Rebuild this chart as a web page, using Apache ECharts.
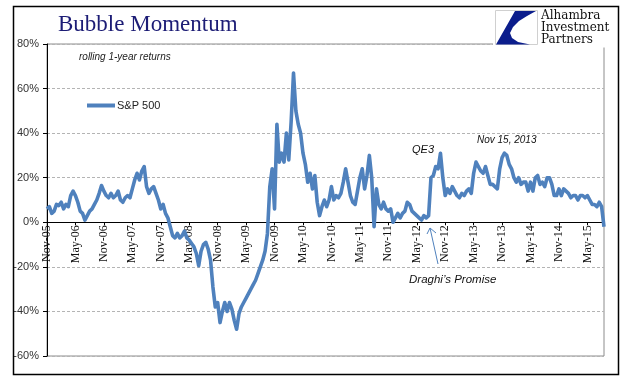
<!DOCTYPE html>
<html>
<head>
<meta charset="utf-8">
<script src="https://cdn.jsdelivr.net/npm/echarts@6/dist/echarts.min.js"></script>
<style>
html,body{margin:0;padding:0;background:#fff;}
#chart{width:641px;height:381px;}
</style>
</head>
<body>
<div id="chart"></div>
<script>
// Six-month tick labels (Nov-05 ... May-15); data points are half-month steps
const tickLabels = ['Nov-05','May-06','Nov-06','May-07','Nov-07','May-08','Nov-08','May-09','Nov-09','May-10',
  'Nov-10','May-11','Nov-11','May-12','Nov-12','May-13','Nov-13','May-14','Nov-14','May-15'];
const pointsPerTick = 12; // 12 half-month points per 6-month label

// S&P 500 rolling 1-year returns (%), half-month steps from Nov 2005
const sp500 = [
  6, 7, 4, 5, 8, 7.5, 9, 6, 8, 7,
  12, 14, 12, 9, 5, 4, 1, 3, 5, 6,
  8, 10, 13, 16.5, 14, 12, 11, 13, 11, 12,
  14, 10, 9, 11, 12, 11, 15, 19, 22, 19,
  23, 25, 16, 13, 15, 16, 13, 10, 6, 8,
  4, 2, -2, -6, -7, -5, -7, -6, -4, -7,
  -8, -9.5, -11, -14, -19.5, -13, -10, -9, -12, -17,
  -29, -38, -36, -45, -40, -36, -40, -36, -39, -44,
  -48, -41, -38, -36, -34, -32, -30, -28, -26, -23,
  -20, -17, -13, -5, 16, 24, 6, 44, 27, 31,
  27, 40, 28, 45, 67, 50, 44, 40, 31, 26,
  18, 22, 15, 21, 9, 3, 7, 10, 7, 10,
  16, 10, 12, 11, 13, 18, 24, 18, 12, 9,
  8, 14, 20, 24, 15, 21, 30, 20, -2, 15,
  8, 6, 9, 6, 5, 6, 0, 2, 4, 2,
  4, 5, 9, 8, 5, 4, 3, 2, 1, 3,
  2, 3, 20, 21, 25, 24, 31, 20, 12, 15,
  13, 16, 14, 12, 11, 13, 12, 14, 15, 13,
  22, 27, 25, 23, 22, 25, 21, 17, 17, 16,
  15, 24, 29, 31, 30, 26, 24, 20, 18, 20,
  17, 18, 18, 14, 18, 14, 20, 21, 17, 18,
  16, 20, 20, 17, 12, 12, 15, 12, 15, 14,
  13, 11, 12, 12, 10, 12, 12, 11, 12, 10,
  8, 8, 7, 9, 7, -2
];
const categories = sp500.map((v, i) => 'p' + i);

const yMin = -60, yMax = 80;
const gridTop = 44, gridBottom = 25, chartH = 381;
const plotH = chartH - gridTop - gridBottom;
// shift the category axis up from the grid bottom to the 0% level
const zeroOffset = -plotH * (0 - yMin) / (yMax - yMin);

const chart = echarts.init(document.getElementById('chart'), null, {renderer: 'canvas'});
const lineColor = '#4F81BD';
const option = {
  animation: false,
  backgroundColor: '#fff',
  grid: {left: 47, top: gridTop, right: 37, bottom: gridBottom, containLabel: false, outerBoundsMode: 'none',
    show: true, borderColor: '#8c8c8c', borderWidth: 1, backgroundColor: 'transparent'},
  legend: {
    left: 82, top: 95, itemWidth: 28, itemHeight: 4, icon: 'rect',
    data: [{name: 'S&P 500', icon: 'rect'}],
    textStyle: {fontFamily: 'Liberation Sans', fontSize: 11, color: '#222', padding: [0, 0, 0, -3]}
  },
  xAxis: {
    type: 'category', data: categories, boundaryGap: false,
    offset: zeroOffset,
    axisLine: {onZero: false, lineStyle: {color: '#000', width: 1}},
    axisTick: {show: true, length: 3, interval: (i) => i % pointsPerTick === 0, lineStyle: {color: '#000'}},
    axisLabel: {
      interval: (i) => i % pointsPerTick === 0, rotate: 90, margin: 3,
      fontFamily: 'Liberation Serif', fontSize: 12, color: '#111',
      formatter: (v, i) => (i % pointsPerTick === 0 ? tickLabels[i / pointsPerTick] : '')
    },
    splitLine: {show: false}
  },
  yAxis: {
    type: 'value', min: yMin, max: yMax, interval: 20,
    axisLine: {show: true, onZero: false, lineStyle: {color: '#000', width: 1}},
    axisTick: {show: true, length: 4, lineStyle: {color: '#000'}},
    axisLabel: {formatter: '{value}%', margin: 8, fontFamily: 'Liberation Sans', fontSize: 11, color: '#333'},
    splitLine: {show: true, lineStyle: {color: '#b4b4b4', type: [3, 2], width: 1}}
  },
  series: [{
    name: 'S&P 500', type: 'line', data: sp500, showSymbol: false, symbol: 'none',
    lineStyle: {color: lineColor, width: 3.6, join: 'round'},
    itemStyle: {color: lineColor}, z: 3
  }],
  graphic: [
    {type: 'rect', z: 100, shape: {x: 493, y: 7.5, width: 124, height: 40}, style: {fill: '#fff', stroke: null}},
    {type: 'rect', z: 101, shape: {x: 495.5, y: 10.5, width: 42, height: 34}, style: {fill: '#fff', stroke: '#d0d0d0', lineWidth: 1}},
    {type: 'polygon', z: 102, shape: {points: [[515,11],[536,11],[527,16],[519,21],[513,27],[510,33],[512,38],[518,42],[530,44.5],[496,44.5]]},
      style: {fill: '#0b1d8c'}},
    {type: 'text', z: 102, style: {x: 541, y: 16, text: 'Alhambra', font: '12px "DejaVu Serif"', fill: '#111', verticalAlign: 'middle'}},
    {type: 'text', z: 102, style: {x: 541, y: 28, text: 'Investment', font: '12px "DejaVu Serif"', fill: '#111', verticalAlign: 'middle'}},
    {type: 'text', z: 102, style: {x: 541, y: 40, text: 'Partners', font: '12px "DejaVu Serif"', fill: '#111', verticalAlign: 'middle'}},
    {type: 'rect', z: 103, shape: {x: 13.5, y: 6.5, width: 605, height: 368}, style: {fill: 'none', stroke: '#000', lineWidth: 1.5}},
    {type: 'text', z: 102, style: {x: 58, y: 24.5, text: 'Bubble Momentum', font: '23px "Liberation Serif"', fill: '#1c1c75', verticalAlign: 'middle'}},
    {type: 'text', z: 102, style: {x: 79, y: 57, text: 'rolling 1-year returns', font: 'italic 10px "Liberation Sans"', fill: '#222', verticalAlign: 'middle'}},
    {type: 'text', z: 102, style: {x: 412, y: 150, text: 'QE3', font: 'italic 11px "Liberation Sans"', fill: '#111', verticalAlign: 'middle'}},
    {type: 'text', z: 102, style: {x: 477, y: 140, text: 'Nov 15, 2013', font: 'italic 10px "Liberation Sans"', fill: '#111', verticalAlign: 'middle'}},
    {type: 'text', z: 102, style: {x: 409, y: 280, text: 'Draghi\u2019s Promise', font: 'italic 11.5px "Liberation Sans"', fill: '#111', verticalAlign: 'middle'}},
    {type: 'line', z: 102, shape: {x1: 438, y1: 264, x2: 430, y2: 228}, style: {stroke: lineColor, lineWidth: 1}},
    {type: 'polyline', z: 102, shape: {points: [[427, 234], [430, 228], [436, 233]]}, style: {stroke: lineColor, lineWidth: 1, fill: null}}
  ]
};
chart.setOption(option);
</script>
</body>
</html>
